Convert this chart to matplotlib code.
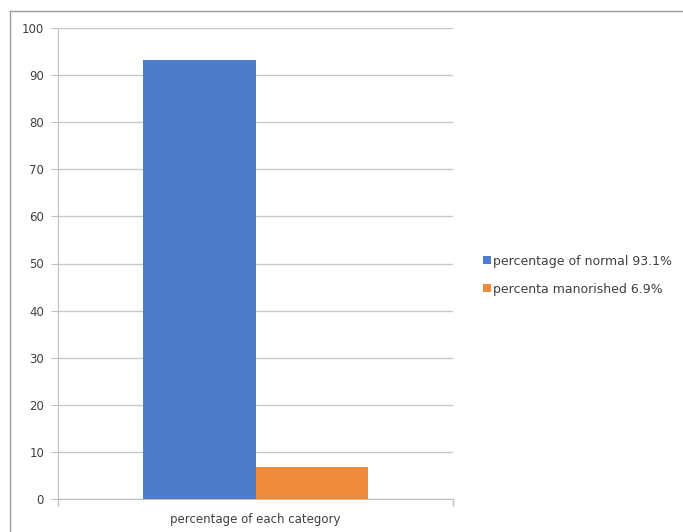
import matplotlib
matplotlib.use("Agg")
import matplotlib.pyplot as plt
from matplotlib.lines import Line2D
from matplotlib.patches import Patch

category = "percentage of each category"
series_names = ["percentage of normal 93.1%", "percenta manorished 6.9%"]
series_values = [93.1, 6.9]
colors = ["#4E7CCB", "#F08A3B"]
yticks = [0, 10, 20, 30, 40, 50, 60, 70, 80, 90, 100]

W, H = 683, 532
fig = plt.figure(figsize=(W / 100, H / 100), dpi=100)
plt.rcParams['font.family'] = ['DejaVu Sans']

ax = fig.add_axes([58 / W, 1 - 499 / H, (453 - 58) / W, (499 - 28) / H])

bw = 0.286
offsets = [-bw / 2, bw / 2]
for off, v, c, name in zip(offsets, series_values, colors, series_names):
    ax.bar(off, v, width=bw, color=c, label=name, zorder=3)

ax.set_xlim(-0.5, 0.5)
ax.set_ylim(0, 100)
ax.set_yticks(yticks)
ax.set_yticklabels([str(t) for t in yticks], fontsize=8.5, color="#404040")
ax.set_xticks([0])
ax.set_xticklabels([category], fontsize=8.5, color="#404040")
ax.tick_params(axis='x', length=0, pad=10)
ax.tick_params(axis='y', length=5, color="#bfbfbf", pad=5)
ax.grid(axis='y', color="#c8c8c8", linewidth=1, zorder=0)
for s in ["top", "right"]:
    ax.spines[s].set_visible(False)
ax.spines["left"].set_color("#bfbfbf")
ax.spines["bottom"].set_color("#bfbfbf")
# small ticks at category boundaries
for xb in [-0.5, 0.5]:
    ax.plot([xb, xb], [0, -1.3], color="#bfbfbf", lw=1, clip_on=False, zorder=2)

handles = [Patch(facecolor=c, label=n) for c, n in zip(colors, series_names)]
fig.legend(handles=handles, loc="center left", bbox_to_anchor=(472 / W, 1 - 275 / H),
           frameon=False, fontsize=9, handlelength=0.65, handleheight=0.65,
           handletextpad=0.15, labelspacing=1.2, labelcolor="#404040")

# outer chart border
fig.add_artist(Line2D([10 / W, 10 / W], [0, 1 - 11 / H], color="#9a9a9a", lw=1))
fig.add_artist(Line2D([10 / W, 1], [1 - 11 / H, 1 - 11 / H], color="#9a9a9a", lw=1))

fig.savefig("out.png", dpi=100)
